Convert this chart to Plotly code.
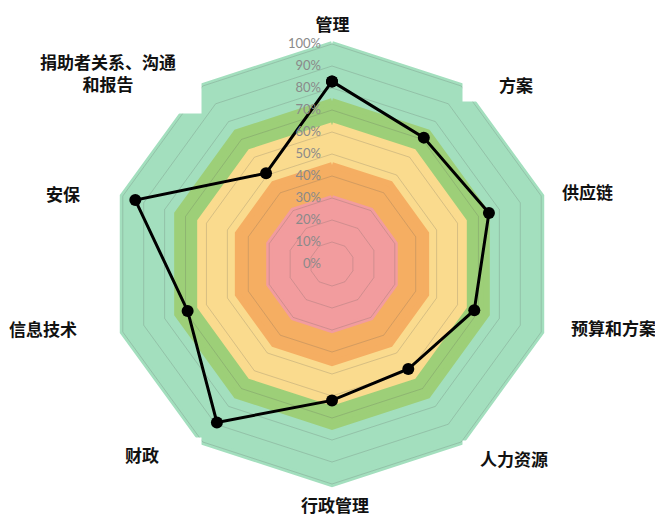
import plotly.graph_objects as go

# Assessment areas (clockwise from the top)
categories = ["管理", "方案", "供应链", "预算和方案", "人力资源",
              "行政管理", "财政", "信息技术", "安保", "捐助者关系、沟通和报告"]
category_text = ["管理", "方案", "供应链", "预算和方案", "人力资源",
                 "行政管理", "财政", "信息技术", "安保", "捐助者关系、沟通<br>和报告"]

# Organisation scores per area
scores = [0.83, 0.71, 0.75, 0.68, 0.59, 0.62, 0.89, 0.69, 0.94, 0.51]

# Maturity bands (outer level of each ring, drawn largest first)
band_levels = [1.00, 0.74, 0.63, 0.45, 0.30]
band_colors = ["#A3DFBE", "#9DCF78", "#FADB8E", "#F5AE62", "#F29C9E"]

# Radial scale ticks
tick_values = [0.0, 0.1, 0.2, 0.3, 0.4, 0.5, 0.6, 0.7, 0.8, 0.9, 1.0]
tick_labels = ["0%", "10%", "20%", "30%", "40%", "50%", "60%", "70%", "80%", "90%", "100%"]

W, H = 655, 516
CX, CY = 332, 264          # centre of the radar, pixels from top-left
R100 = 220                 # pixel radius of the 100% ring
R_MAX = 1.05               # radial range upper bound
R_OUT = R100 * R_MAX

fig = go.Figure()

closed_theta = categories + categories[:1]
n_closed = len(closed_theta)

# Coloured maturity rings
for level, color in zip(band_levels, band_colors):
    fig.add_trace(go.Scatterpolar(
        r=[level] * n_closed,
        theta=closed_theta,
        mode="lines",
        fill="toself",
        fillcolor=color,
        line=dict(color=color, width=6),
        hoverinfo="skip",
    ))

# Polygon gridlines at every tick, drawn over the rings
for level in tick_values[1:]:
    fig.add_trace(go.Scatterpolar(
        r=[level] * n_closed,
        theta=closed_theta,
        mode="lines",
        line=dict(color="rgba(90,90,90,0.22)", width=1),
        hoverinfo="skip",
    ))

# Score profile
fig.add_trace(go.Scatterpolar(
    r=scores + scores[:1],
    theta=closed_theta,
    mode="lines+markers",
    line=dict(color="black", width=3),
    marker=dict(color="black", size=12),
))

# Category label boxes: [left, top, right, bottom] in pixels, text alignment
label_boxes = [
    ([303, 8, 360, 36], "center"),
    ([462, 66, 532, 100], "right"),
    ([548, 172, 612, 208], "right"),
    ([558, 313, 655, 339], "right"),
    ([462, 440, 547, 474], "right"),
    ([290, 490, 378, 516], "center"),
    ([124, 437, 200, 469], "left"),
    ([8, 309, 113, 345], "left"),
    ([45, 178, 115, 206], "left"),
    ([14, 48, 200, 112], "center"),
]

annotations = []
for text, (box, align) in zip(category_text, label_boxes):
    x0, y0, x1, y1 = box
    annotations.append(dict(
        text=text,
        xref="paper", yref="paper",
        x=x0 / W, y=1 - y0 / H,
        xanchor="left", yanchor="top",
        width=x1 - x0, height=y1 - y0,
        align=align, valign="top" if "<br>" in text else "middle",
        showarrow=False,
        bgcolor="white",
        borderpad=0,
        font=dict(family="Noto Sans CJK SC", size=17, color="#111111", weight="bold"),
    ))

fig.update_layout(
    width=W, height=H,
    margin=dict(l=0, r=0, t=0, b=0),
    paper_bgcolor="white",
    showlegend=False,
    annotations=annotations,
    polar=dict(
        domain=dict(x=[(CX - R_OUT) / W, (CX + R_OUT) / W],
                    y=[(H - CY - R_OUT) / H, (H - CY + R_OUT) / H]),
        bgcolor="white",
        gridshape="linear",
        angularaxis=dict(
            direction="clockwise", rotation=90,
            showline=False, showgrid=False, showticklabels=False, ticks="",
        ),
        radialaxis=dict(
            range=[0, R_MAX],
            angle=90, side="counterclockwise",
            layer="above traces",
            tickvals=tick_values, ticktext=tick_labels,
            tickangle=90,
            ticks="outside", ticklen=6, tickcolor="rgba(0,0,0,0)",
            tickfont=dict(family="Lato", size=13, color="#8A8A8A"),
            showline=False, showgrid=False,
        ),
    ),
)

fig.write_html("out.html")
